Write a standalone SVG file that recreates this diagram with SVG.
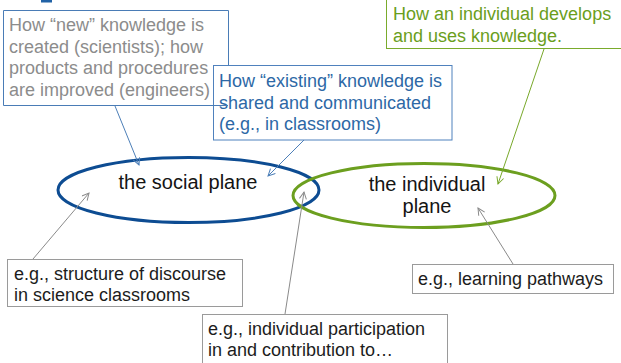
<svg xmlns="http://www.w3.org/2000/svg" width="621" height="363" viewBox="0 0 621 363">
  <style>
    text { font-family: "Liberation Sans", Arial, sans-serif; font-size: 18px; }
    .plane-label { font-size: 20px; fill: #141414; text-anchor: middle; }
    .note { fill: #1c1c1c; }
    .note-box { fill: #ffffff; stroke: #9a9a9a; stroke-width: 1; }
    .conn { fill: none; stroke-width: 1; }
    .conn-blue { stroke: #4d7fb8; marker-end: url(#arrow-blue); }
    .conn-green { stroke: #78a82a; marker-end: url(#arrow-green); }
    .conn-gray { stroke: #8a8a8a; marker-end: url(#arrow-gray); }
  </style>
  <defs>
    <marker id="arrow-blue" markerUnits="userSpaceOnUse" markerWidth="10" markerHeight="10" refX="8" refY="4" orient="auto">
      <path d="M1,0.5 L8,4 L1,7.5" fill="none" stroke="#4d7fb8" stroke-width="1"/>
    </marker>
    <marker id="arrow-green" markerUnits="userSpaceOnUse" markerWidth="10" markerHeight="10" refX="8" refY="4" orient="auto">
      <path d="M1,0.5 L8,4 L1,7.5" fill="none" stroke="#78a82a" stroke-width="1"/>
    </marker>
    <marker id="arrow-gray" markerUnits="userSpaceOnUse" markerWidth="10" markerHeight="10" refX="8" refY="4" orient="auto">
      <path d="M1,0.5 L8,4 L1,7.5" fill="none" stroke="#8a8a8a" stroke-width="1"/>
    </marker>
  </defs>

  <rect width="621" height="363" fill="#ffffff"/>
  <!-- small header tab -->
  <rect x="41" y="0" width="11" height="2.5" fill="#2162a6"/>

  <!-- planes -->
  <g id="social-plane">
    <ellipse cx="188.5" cy="190" rx="130.5" ry="32.5" fill="none" stroke="#0d4c92" stroke-width="3"/>
    <text class="plane-label" x="188" y="189">the social plane</text>
  </g>
  <g id="individual-plane">
    <ellipse cx="424" cy="195.5" rx="131" ry="32" fill="none" stroke="#6c9f1f" stroke-width="3"/>
    <text class="plane-label" x="427" y="191">the individual</text>
    <text class="plane-label" x="427" y="213">plane</text>
  </g>

  <!-- upper notes -->
  <g id="note-existing">
    <rect x="213.5" y="65.5" width="238.5" height="74.5" fill="#ffffff" stroke="#4f81bd" stroke-width="1"/>
    <text x="219" y="87" fill="#2d68a6">How “existing” knowledge is</text>
    <text x="219" y="108.5" fill="#2d68a6">shared and communicated</text>
    <text x="219" y="130" fill="#2d68a6">(e.g., in classrooms)</text>
  </g>
  <g id="note-new">
    <path d="M228.5,65 V10.5 H3.5 V105.5 H228" fill="none" stroke="#4a7cb6" stroke-width="1"/>
    <text x="9" y="31" fill="#8c8c8c">How “new” knowledge is</text>
    <text x="9" y="52.5" fill="#8c8c8c">created (scientists); how</text>
    <text x="9" y="74" fill="#8c8c8c">products and procedures</text>
    <text x="9" y="95.5" fill="#8c8c8c">are improved (engineers)</text>
  </g>
  <g id="note-individual">
    <rect x="386.5" y="-2" width="240" height="50.5" fill="#ffffff" stroke="#7aab2c" stroke-width="1"/>
    <text x="393" y="20" fill="#6a9e1c">How an individual develops</text>
    <text x="393" y="41.5" fill="#6a9e1c">and uses knowledge.</text>
  </g>

  <!-- lower notes -->
  <g id="note-discourse">
    <rect class="note-box" x="7.5" y="259.5" width="235" height="47"/>
    <text class="note" x="14" y="280">e.g., structure of discourse</text>
    <text class="note" x="14" y="300.5">in science classrooms</text>
  </g>
  <g id="note-participation">
    <rect class="note-box" x="202.5" y="314.5" width="245" height="60"/>
    <text class="note" x="208" y="335">e.g., individual participation</text>
    <text class="note" x="208" y="356">in and contribution to…</text>
  </g>
  <g id="note-pathways">
    <rect class="note-box" x="412.5" y="264.5" width="201" height="29"/>
    <text class="note" x="418" y="284.5">e.g., learning pathways</text>
  </g>

  <!-- connectors -->
  <g id="connectors">
    <line class="conn conn-blue" x1="115" y1="106" x2="139" y2="165"/>
    <line class="conn conn-blue" x1="304" y1="140" x2="268" y2="176"/>
    <line class="conn conn-green" x1="544" y1="49" x2="498" y2="184"/>
    <line class="conn conn-gray" x1="33" y1="259" x2="89" y2="193"/>
    <line class="conn conn-gray" x1="285" y1="314" x2="304" y2="192"/>
    <line class="conn conn-gray" x1="513" y1="264" x2="478" y2="208"/>
  </g>
</svg>
